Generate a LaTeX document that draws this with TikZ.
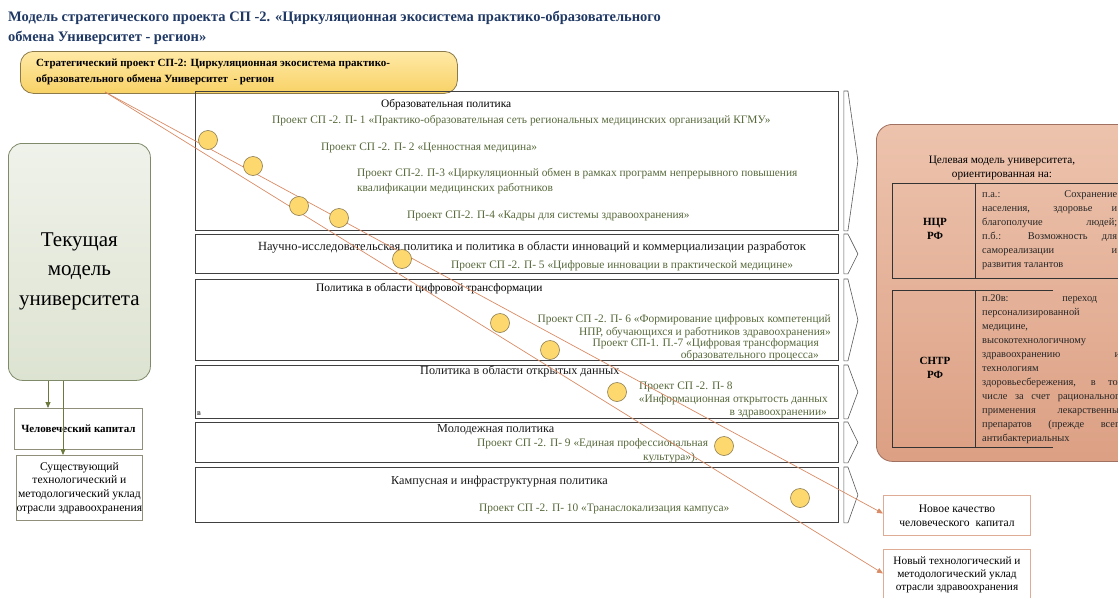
\documentclass[tikz,border=0pt]{standalone}
\usepackage{fontspec}
\setmainfont{Liberation Serif}
\usetikzlibrary{arrows.meta}
\definecolor{titleblue}{HTML}{1F3864}
\definecolor{olivetxt}{HTML}{56683A}
\definecolor{yltop}{HTML}{FFE9A6}
\definecolor{ylbot}{HTML}{F8D266}
\definecolor{yldraw}{HTML}{8C7A4A}
\definecolor{saltop}{HTML}{EDC3AD}
\definecolor{salbot}{HTML}{DCA084}
\definecolor{saldraw}{HTML}{A07060}
\definecolor{connor}{HTML}{D88B66}
\definecolor{grntop}{HTML}{EFF2EA}
\definecolor{grnbot}{HTML}{DDE3D1}
\definecolor{grndraw}{HTML}{7F8A6A}
\definecolor{olivearr}{HTML}{6B7A3C}
\definecolor{circfill}{HTML}{FDD86E}
\definecolor{circdraw}{HTML}{8A7A50}
\definecolor{boxdraw}{HTML}{404040}
\definecolor{lbdraw}{HTML}{8F8F7A}
\definecolor{rbdraw}{HTML}{DEAC94}
\begin{document}
\begin{tikzpicture}[x=1pt,y=-1pt,
  pbox/.style={draw=boxdraw, line width=0.9pt, anchor=north west, minimum width=643pt, inner sep=0},
  chev/.style={draw=gray!70!black, line width=0.6pt},
  htxt/.style={font=\fontsize{11.4}{13}\selectfont, inner sep=0, anchor=base west},
  ctxt/.style={font=\fontsize{12.2}{14}\selectfont, text=black!90, inner sep=0, anchor=base west},
  ptxt/.style={font=\fontsize{11.4}{13}\selectfont, text=olivetxt, inner sep=0, anchor=base west},
  ptxte/.style={font=\fontsize{11.4}{13}\selectfont, text=olivetxt, inner sep=0, anchor=base east},
  circ/.style={circle, draw=circdraw, fill=circfill, line width=0.6pt, minimum size=19pt, inner sep=0},
  conn/.style={draw=connor, line width=0.7pt, -{Triangle[length=6pt,width=5pt]}},
  oarr/.style={draw=olivearr, line width=0.8pt, -{Triangle[length=6pt,width=5pt]}},
  rtxt/.style={font=\fontsize{10.4}{12}\selectfont, text=black!85, inner sep=0, anchor=base west},
  lbox/.style={draw=lbdraw, line width=0.8pt, anchor=north west, inner sep=0, align=center},
  rbox/.style={draw=rbdraw, line width=1pt, anchor=north west, inner sep=0, align=center},
]
\useasboundingbox (0,0) rectangle (1118,597);
\clip (0,0) rectangle (1118,597);

% title
\node[font=\bfseries\fontsize{14.5}{17}\selectfont, text=titleblue, inner sep=0, anchor=base west] (title1) at (8,21) {Модель стратегического проекта СП -2. «Циркуляционная экосистема практико-образовательного};
\node[font=\bfseries\fontsize{14.5}{17}\selectfont, text=titleblue, inner sep=0, anchor=base west] (title2) at (8,41) {обмена Университет - регион»};

% yellow box
\node[draw=yldraw, line width=0.8pt, top color=yltop, bottom color=ylbot, rounded corners=13pt, minimum width=437pt, minimum height=42pt, anchor=north west] (sp) at (20,51) {};
\node[font=\bfseries\fontsize{11}{13}\selectfont, inner sep=0, anchor=base west] (sp1) at (36,66) {Стратегический проект СП-2: Циркуляционная экосистема практико-};
\node[font=\bfseries\fontsize{11}{13}\selectfont, inner sep=0, anchor=base west] (sp2) at (36,82) {образовательного обмена Университет \ - регион};

% left current model
\node[draw=grndraw, line width=0.8pt, top color=grntop, bottom color=grnbot, rounded corners=14pt, minimum width=142pt, minimum height=237pt, anchor=north west] (cur) at (8,143) {};
\node[font=\fontsize{21}{29.5}\selectfont, align=center, inner sep=0] (curt) at ([yshift=-9pt]cur.center) {Текущая\\модель\\университета};

\node[lbox, minimum width=128pt, minimum height=41pt, font=\bfseries\fontsize{11}{13}\selectfont] (hk) at (14,408) {Человеческий капитал};
\node[lbox, minimum width=126pt, minimum height=65pt, font=\fontsize{11.6}{13.6}\selectfont] (su) at (16,455) {Существующий\\технологический и\\методологический уклад\\отрасли здравоохранения};

\draw[oarr] ([xshift=40pt]cur.south west) -- ([xshift=40pt]cur.south west |- hk.north);
\draw[oarr] ([xshift=55pt]cur.south west) -- ([xshift=55pt]cur.south west |- su.north);

% policy boxes
\node[pbox, minimum height=139pt] (p1) at (195,91) {};
\node[pbox, minimum height=39pt] (p2) at (195,234) {};
\node[pbox, minimum height=81pt] (p3) at (195,279) {};
\node[pbox, minimum height=53pt] (p4) at (195,365) {};
\node[pbox, minimum height=40pt] (p5) at (195,422) {};
\node[pbox, minimum height=55pt] (p6) at (195,467) {};
\foreach \n in {p1,p2,p3,p4,p5,p6}
  \draw[chev] ([xshift=5pt]\n.north east) -- ([xshift=9pt]\n.north east) -- ([xshift=19pt]\n.east) -- ([xshift=9pt]\n.south east) -- ([xshift=5pt]\n.south east) -- cycle;

% box 1
\node[htxt] (h1) at (381,107) {Образовательная политика};
\node[ptxt] (pr1) at (272,123) {Проект СП -2. П- 1 «Практико-образовательная сеть региональных медицинских организаций КГМУ»};
\node[ptxt] (pr2) at (321,150) {Проект СП -2. П- 2 «Ценностная медицина»};
\node[ptxt] (pr3a) at (357,176) {Проект СП-2. П-3 «Циркуляционный обмен в рамках программ непрерывного повышения};
\node[ptxt] (pr3b) at (357,191) {квалификации медицинских работников};
\node[ptxt] (pr4) at (407,218) {Проект СП-2. П-4 «Кадры для системы здравоохранения»};
% box 2
\node[ctxt, font=\fontsize{12.5}{14}\selectfont] (h2) at (258,250) {Научно-исследовательская политика и политика в области инноваций и коммерциализации разработок};
\node[ptxt] (pr5) at (451,268) {Проект СП -2. П- 5 «Цифровые инновации в практической медицине»};
% box 3
\node[htxt] (h3) at (316,291) {Политика в области цифровой трансформации};
\node[ptxte] (pr6a) at (831,322) {Проект СП -2. П- 6 «Формирование цифровых компетенций};
\node[ptxte] (pr6b) at (831,335) {НПР, обучающихся и работников здравоохранения»};
\node[ptxte] (pr7a) at (819,346) {Проект СП-1. П.-7 «Цифровая трансформация};
\node[ptxte] (pr7b) at (819,358) {образовательного процесса»};
% box 4
\node[ctxt] (h4) at (420,374) {Политика в области открытых данных};
\node[ptxt] (pr8a) at (639,389) {Проект СП -2. П- 8};
\node[ptxte] (pr8b) at (828,402) {«Информационная открытость данных};
\node[ptxte] (pr8c) at (827,415) {в здравоохранении»};
\node[htxt, font=\fontsize{8}{10}\selectfont] (bv) at (197,415) {в};
% box 5
\node[ctxt] (h5) at (437,432) {Молодежная политика};
\node[ptxt] (pr9a) at (477,446) {Проект СП -2. П- 9 «Единая профессиональная};
\node[ptxte] (pr9b) at (698,460) {культура»).};
% box 6
\node[ctxt] (h6) at (391,484) {Кампусная и инфраструктурная политика};
\node[ptxt] (pr10) at (479,511) {Проект СП -2. П- 10 «Транаслокализация кампуса»};

% right target model
\node[draw=saldraw, line width=0.8pt, top color=saltop, bottom color=salbot, rounded corners=16pt, minimum width=262pt, minimum height=337pt, anchor=north west] (tgt) at (876,124) {};
\node[font=\fontsize{11.3}{14}\selectfont, align=center, inner sep=0] (tgtt) at (1002,168) {Целевая модель университета,\\ориентированная на:};
\draw[line width=0.7pt, black!80] (892,183) -- (1118,183) (892,278) -- (1118,278) (892,183) -- (892,278) (975,183) -- (975,278);
\draw[line width=0.7pt, black!80] (892,290) -- (1053,290) (892,447) -- (1053,447) (892,290) -- (892,447) (975,290) -- (975,447);
\node[font=\bfseries\fontsize{11}{14}\selectfont, align=center, inner sep=0] (ncr) at (935,229) {НЦР\\РФ};
\node[font=\bfseries\fontsize{11}{14}\selectfont, align=center, inner sep=0] (sntr) at (935,368) {СНТР\\РФ};
\node[rtxt] (a1) at (982,197) {\makebox[135pt][s]{п.а.: Сохранение}};
\node[rtxt] (a2) at (982,211) {\makebox[135pt][s]{населения, здоровье и}};
\node[rtxt] (a3) at (982,225) {\makebox[135pt][s]{благополучие людей;}};
\node[rtxt] (a4) at (982,239) {\makebox[135pt][s]{п.б.: Возможность для}};
\node[rtxt] (a5) at (982,253) {\makebox[135pt][s]{самореализации и}};
\node[rtxt] (a6) at (982,267) {развития талантов};
\node[rtxt] (b1) at (982,301) {\makebox[115pt][s]{п.20в: переход}};
\node[rtxt] (b2) at (982,315) {персонализированной};
\node[rtxt] (b3) at (982,329) {медицине,};
\node[rtxt] (b4) at (982,343) {высокотехнологичному};
\node[rtxt] (b5) at (982,357) {\makebox[138pt][s]{здравоохранению и}};
\node[rtxt] (b6) at (982,371) {технологиям};
\node[rtxt] (b7) at (982,385) {\makebox[142pt][s]{здоровьесбережения, в том}};
\node[rtxt] (b8) at (982,399) {\makebox[142pt][s]{числе за счет рационального}};
\node[rtxt] (b9) at (982,413) {\makebox[142pt][s]{применения лекарственных}};
\node[rtxt] (b10) at (982,427) {\makebox[142pt][s]{препаратов (прежде всего}};
\node[rtxt] (b11) at (982,441) {антибактериальных};

% bottom right boxes
\node[rbox, minimum width=147pt, minimum height=40pt, font=\fontsize{11.6}{14}\selectfont] (nq) at (883,495) {Новое качество\\человеческого \ капитал};
\node[rbox, minimum width=147pt, minimum height=50pt, font=\fontsize{11.3}{13}\selectfont] (nt) at (883,549) {Новый технологический и\\методологический уклад\\отрасли здравоохранения};

% connectors
\coordinate (ls) at (105,92);
\draw[conn] (ls) -- ([yshift=2pt]nq.west);
\draw[conn] (ls) -- ([yshift=1pt]nt.west);

% circles
\node[circ] (c1) at (208,140) {};
\node[circ] (c2) at (253,166) {};
\node[circ] (c3) at (299,206) {};
\node[circ] (c4) at (339,218) {};
\node[circ] (c5) at (402,259) {};
\node[circ] (c6) at (500,323) {};
\node[circ] (c7) at (550,350) {};
\node[circ] (c8) at (617,392) {};
\node[circ] (c9) at (724,446) {};
\node[circ] (c10) at (800,498) {};
\end{tikzpicture}
\end{document}
